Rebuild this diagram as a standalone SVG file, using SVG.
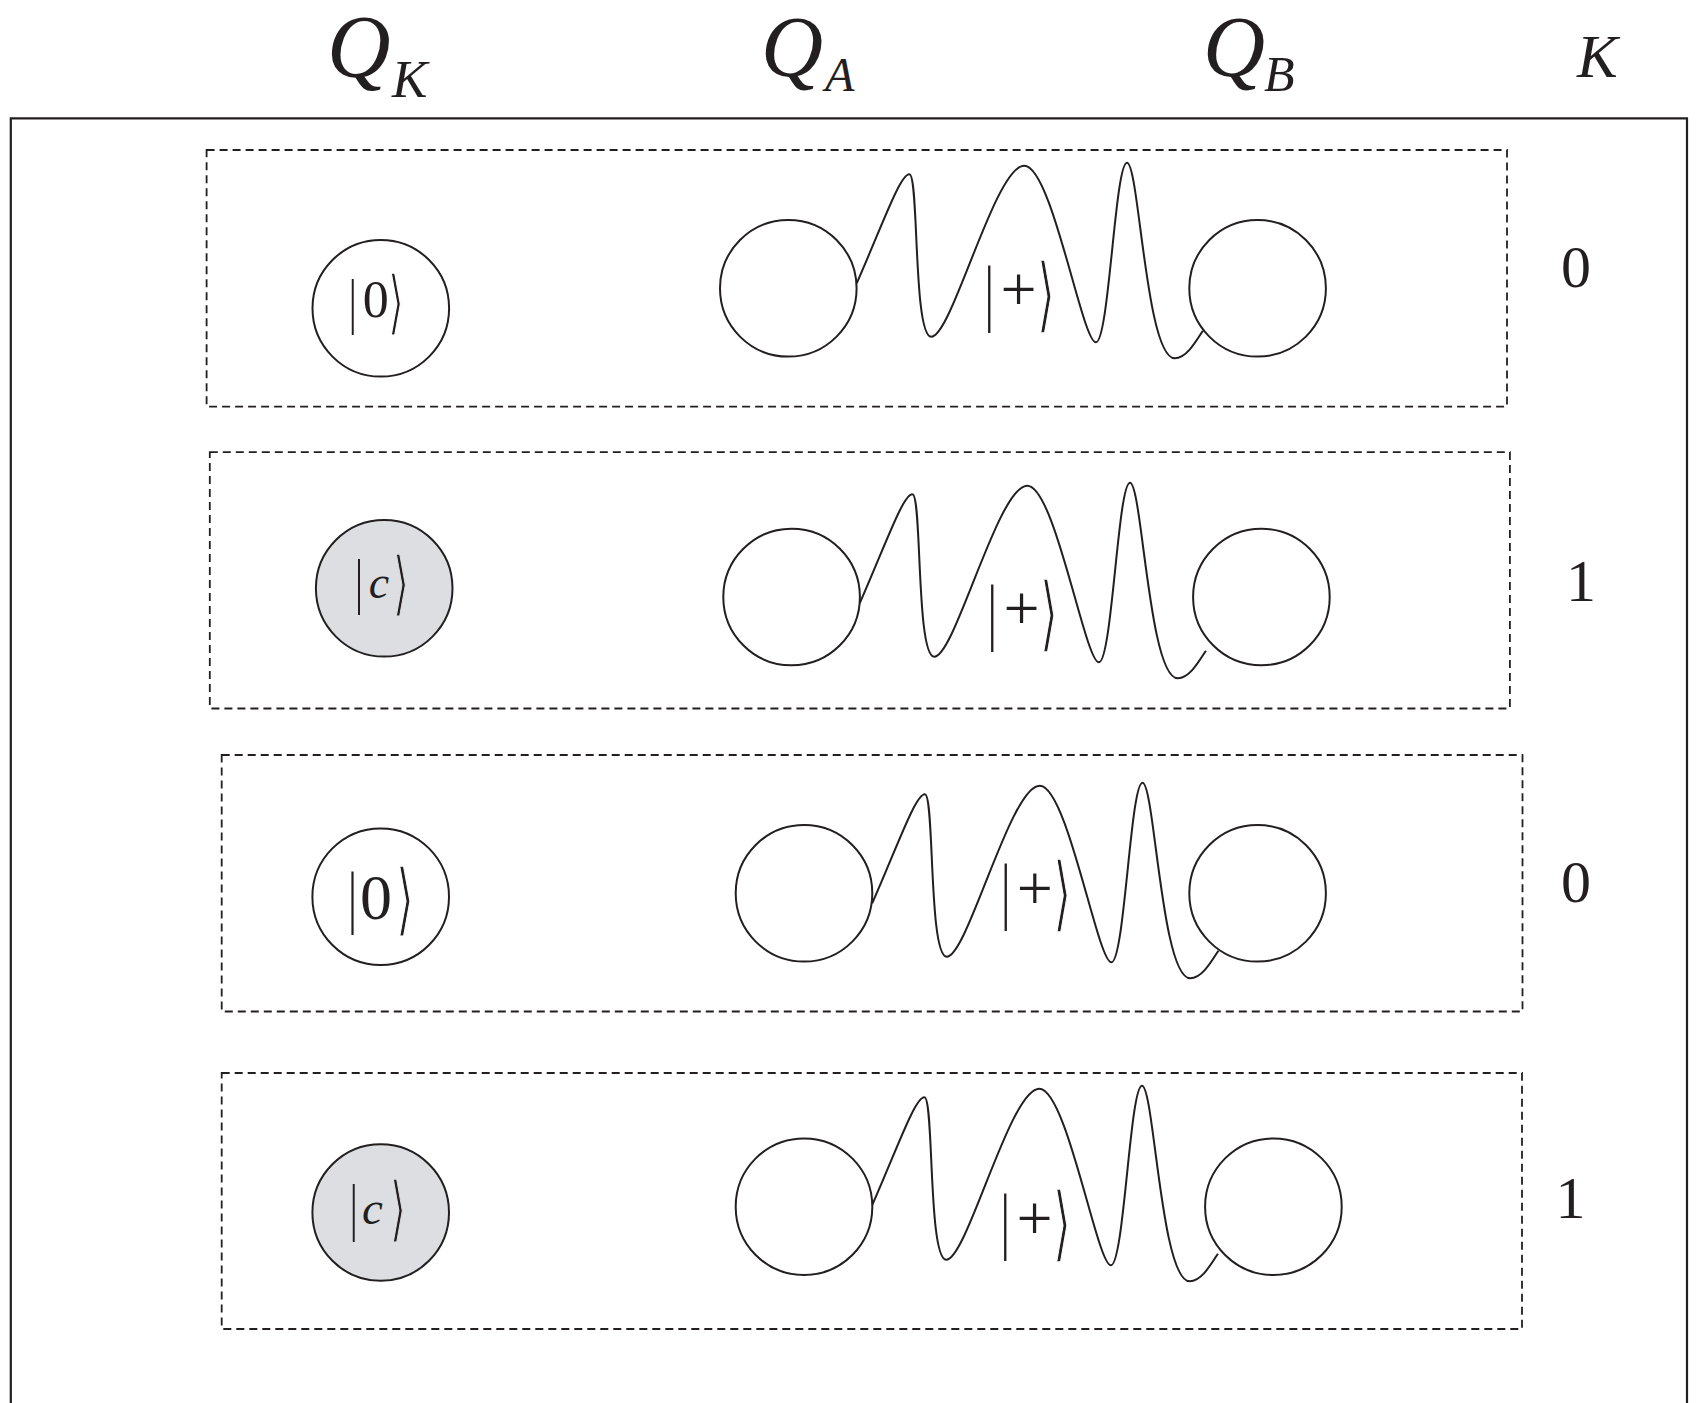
<svg xmlns="http://www.w3.org/2000/svg" xmlns:xlink="http://www.w3.org/1999/xlink" width="1696" height="1403" viewBox="0 0 1696 1403">
<style>
.frame{fill:none;stroke:#231f20;stroke-width:2.2}
.box{fill:none;stroke:#231f20;stroke-width:1.8;stroke-dasharray:8 5}
.q{fill:#fff;stroke:#231f20;stroke-width:2}
.qg{fill:#dcdee1;stroke:#231f20;stroke-width:2}
.wave{fill:none;stroke:#231f20;stroke-width:2}
.hdr{font-family:"Liberation Serif","Times New Roman",serif;font-style:italic;fill:#231f20}
.num{font-family:"Liberation Serif","Times New Roman",serif;font-size:60px;fill:#231f20;text-anchor:middle}
.ket{font-family:"Liberation Serif","Times New Roman",serif;fill:#231f20}
.ab{font-family:"DejaVu Sans",sans-serif;stroke:#fff;stroke-width:1.6}
.abg{font-family:"DejaVu Sans",sans-serif;stroke:#dcdee1;stroke-width:1.6}
</style>
<defs>
<path id="w" d="M856.7,283.3 C882,226 900,174 909.4,174.3 C919,174 913,336.7 931.3,336.7 C952,336.7 995,165.7 1024.2,165.7 C1052,165.7 1082,342.3 1095.9,342.3 C1109,342.3 1115,162.7 1127,162.7 C1139,162.7 1146,358.3 1174.7,358.3 C1186,358.3 1195,343 1202.9,330.7"/>
</defs>
<path class="frame" d="M10.8,1403 V118.3 H1687 V1403"/>
<g id="headers">
<text class="hdr" x="327" y="76" font-size="88">Q<tspan x="392" y="96.7" font-size="53">K</tspan></text>
<text class="hdr" x="761" y="76" font-size="86">Q<tspan x="825" y="91" font-size="48">A</tspan></text>
<text class="hdr" x="1203" y="76" font-size="86">Q<tspan x="1264" y="91" font-size="50">B</tspan></text>
<text class="hdr" x="1577" y="77.3" font-size="61">K</text>
</g>
<g id="boxes">
<rect id="box1" class="box" x="206.6" y="150" width="1300.4" height="256.7"/>
<rect id="box2" class="box" x="209.8" y="452.1" width="1300.1" height="256.4"/>
<rect id="box3" class="box" x="221.7" y="755" width="1300.8" height="256.5"/>
<rect id="box4" class="box" x="221.7" y="1073" width="1300.3" height="256"/>
</g>
<g id="connectors">
<use xlink:href="#w" href="#w" class="wave"/>
<use xlink:href="#w" href="#w" class="wave" transform="translate(3,320)"/>
<use xlink:href="#w" href="#w" class="wave" transform="translate(15.5,620)"/>
<use xlink:href="#w" href="#w" class="wave" transform="translate(15,923)"/>
</g>
<g id="qk1"><circle class="q" cx="380.8" cy="308.3" r="68.3"/>
<text class="ket"><tspan x="348.7" y="321.5" font-size="62" textLength="8" lengthAdjust="spacingAndGlyphs">|</tspan><tspan x="362.7" y="317.3" font-size="52">0</tspan><tspan class="ab" x="388" y="326" font-size="70" textLength="16" lengthAdjust="spacingAndGlyphs">⟩</tspan></text></g>
<g id="qk2"><circle class="qg" cx="384.2" cy="588.3" r="68.3"/>
<text class="ket"><tspan x="355" y="602.2" font-size="62" textLength="8" lengthAdjust="spacingAndGlyphs">|</tspan><tspan x="368.7" y="598.3" font-size="46" font-style="italic">c</tspan><tspan class="abg" x="393" y="606.7" font-size="70" textLength="16" lengthAdjust="spacingAndGlyphs">⟩</tspan></text></g>
<g id="qk3"><circle class="q" cx="380.7" cy="896.7" r="68.3"/>
<text class="ket"><tspan x="348.1" y="920.3" font-size="70" textLength="9" lengthAdjust="spacingAndGlyphs">|</tspan><tspan x="360" y="919" font-size="64">0</tspan><tspan class="ab" x="396" y="925.6" font-size="79" textLength="18" lengthAdjust="spacingAndGlyphs">⟩</tspan></text></g>
<g id="qk4"><circle class="qg" cx="380.7" cy="1212.5" r="68.3"/>
<text class="ket"><tspan x="349.7" y="1228" font-size="63" textLength="8" lengthAdjust="spacingAndGlyphs">|</tspan><tspan x="362" y="1223.8" font-size="47" font-style="italic">c</tspan><tspan class="abg" x="390" y="1232.7" font-size="71" textLength="16" lengthAdjust="spacingAndGlyphs">⟩</tspan></text></g>
<g id="qa1"><circle class="q" cx="788.3" cy="288.3" r="68.3"/></g>
<g id="qa2"><circle class="q" cx="791.6" cy="597" r="68.3"/></g>
<g id="qa3"><circle class="q" cx="804" cy="893.3" r="68.3"/></g>
<g id="qa4"><circle class="q" cx="804" cy="1206.7" r="68.3"/></g>
<g id="qb1"><circle class="q" cx="1257.6" cy="288.3" r="68.3"/></g>
<g id="qb2"><circle class="q" cx="1261.4" cy="597" r="68.3"/></g>
<g id="qb3"><circle class="q" cx="1257.6" cy="893.3" r="68.3"/></g>
<g id="qb4"><circle class="q" cx="1273.4" cy="1206.7" r="68.3"/></g>
<g id="plus-labels">
<text class="ket"><tspan x="984.6" y="316.8" font-size="73" textLength="9.5" lengthAdjust="spacingAndGlyphs">|</tspan><tspan x="1000.4" y="311.2" font-size="64">+</tspan><tspan class="ab" x="1037" y="322" font-size="82" textLength="18" lengthAdjust="spacingAndGlyphs">⟩</tspan></text>
<text class="ket" transform="translate(3,319.3)"><tspan x="984.6" y="316.8" font-size="73" textLength="9.5" lengthAdjust="spacingAndGlyphs">|</tspan><tspan x="1000.4" y="311.2" font-size="64">+</tspan><tspan class="ab" x="1037" y="322" font-size="82" textLength="18" lengthAdjust="spacingAndGlyphs">⟩</tspan></text>
<text class="ket" transform="translate(16.3,598.5)"><tspan x="984.6" y="316.8" font-size="73" textLength="9.5" lengthAdjust="spacingAndGlyphs">|</tspan><tspan x="1000.4" y="311.2" font-size="64">+</tspan><tspan class="ab" x="1037" y="322" font-size="82" textLength="18" lengthAdjust="spacingAndGlyphs">⟩</tspan></text>
<text class="ket" transform="translate(16,928.5)"><tspan x="984.6" y="316.8" font-size="73" textLength="9.5" lengthAdjust="spacingAndGlyphs">|</tspan><tspan x="1000.4" y="311.2" font-size="64">+</tspan><tspan class="ab" x="1037" y="322" font-size="82" textLength="18" lengthAdjust="spacingAndGlyphs">⟩</tspan></text>
</g>
<g id="k-values">
<text class="num" x="1576" y="286.7">0</text>
<text class="num" x="1581" y="601">1</text>
<text class="num" x="1576" y="901.7">0</text>
<text class="num" x="1570.5" y="1218.3">1</text>
</g>
</svg>
